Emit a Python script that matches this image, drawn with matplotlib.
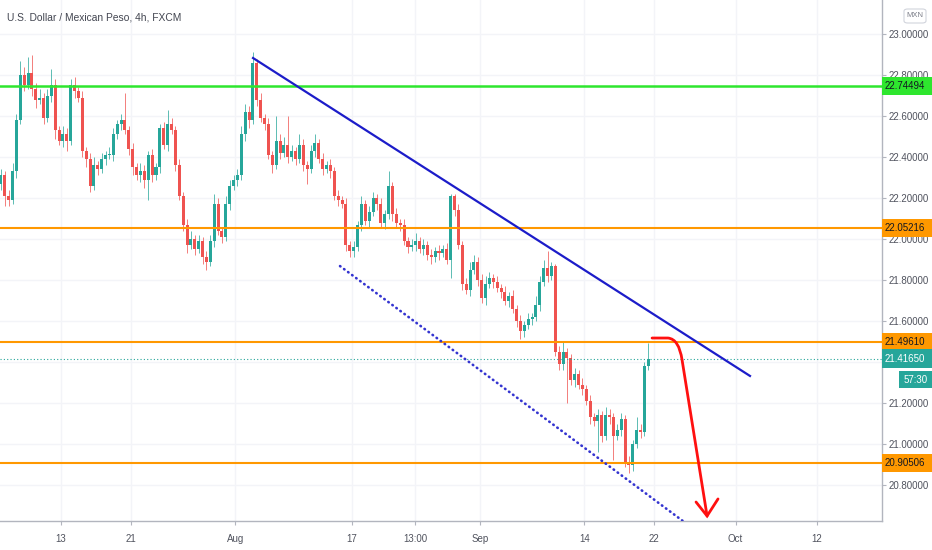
import numpy as np
import matplotlib.pyplot as plt
from matplotlib import transforms
from matplotlib.path import Path
from matplotlib.patches import PathPatch, Rectangle, FancyBboxPatch

plt.rcParams['font.family'] = ['Liberation Sans', 'DejaVu Sans']

# 8h candles, three per trading day, x in trading days from Mon 13 Jul
first_open = 22.27
closes = [22.31, 22.21, 22.19, 22.33, 22.58, 22.80, 22.75, 22.81, 22.73, 22.68,
          22.69, 22.59, 22.70, 22.75, 22.53, 22.48, 22.51, 22.48, 22.75, 22.72,
          22.69, 22.43, 22.39, 22.26, 22.36, 22.34, 22.39, 22.41, 22.41, 22.51,
          22.56, 22.58, 22.53, 22.44, 22.35, 22.31, 22.33, 22.29, 22.41, 22.31,
          22.35, 22.54, 22.46, 22.56, 22.53, 22.36, 22.21, 22.07, 21.97, 22.00,
          21.95, 21.99, 21.91, 21.89, 21.99, 22.17, 22.04, 22.01, 22.17, 22.26,
          22.29, 22.31, 22.51, 22.62, 22.58, 22.86, 22.68, 22.59, 22.56, 22.41,
          22.36, 22.48, 22.42, 22.46, 22.40, 22.43, 22.39, 22.46, 22.36, 22.34,
          22.43, 22.47, 22.39, 22.34, 22.36, 22.33, 22.21, 22.19, 22.17, 21.97,
          21.94, 21.96, 22.07, 22.17, 22.09, 22.13, 22.20, 22.17, 22.08, 22.12,
          22.26, 22.12, 22.08, 22.07, 21.99, 21.96, 21.97, 21.99, 21.95, 21.97,
          21.92, 21.91, 21.94, 21.93, 21.95, 21.90, 22.21, 22.14, 21.97, 21.78,
          21.75, 21.85, 21.89, 21.80, 21.71, 21.78, 21.81, 21.79, 21.76, 21.74,
          21.70, 21.72, 21.66, 21.60, 21.55, 21.58, 21.61, 21.62, 21.68, 21.79,
          21.86, 21.82, 21.87, 21.45, 21.39, 21.45, 21.42, 21.31, 21.34, 21.29,
          21.27, 21.21, 21.13, 21.11, 21.14, 21.04, 21.14, 21.13, 21.04, 21.07,
          21.12, 20.91, 20.90, 21.00, 21.07, 21.06, 21.38, 21.4165]
wick_up = [0.03, 0.02, 0.03, 0.04, 0.03, 0.07, 0.04, 0.08, 0.09, 0.03,
           0.04, 0.02, 0.03, 0.08, 0.03, 0.02, 0.04, 0.03, 0.03, 0.04,
           0.02, 0.03, 0.02, 0.03, 0.04, 0.02, 0.03, 0.02, 0.04, 0.03,
           0.02, 0.03, 0.13, 0.02, 0.03, 0.02, 0.04, 0.03, 0.02, 0.03,
           0.02, 0.02, 0.03, 0.07, 0.03, 0.02, 0.03, 0.02, 0.03, 0.04,
           0.02, 0.03, 0.02, 0.03, 0.03, 0.05, 0.03, 0.02, 0.04, 0.03,
           0.02, 0.03, 0.04, 0.04, 0.03, 0.05, 0.02, 0.03, 0.02, 0.03,
           0.02, 0.12, 0.03, 0.04, 0.14, 0.03, 0.02, 0.05, 0.03, 0.02,
           0.03, 0.04, 0.02, 0.03, 0.02, 0.03, 0.02, 0.03, 0.02, 0.03,
           0.02, 0.03, 0.02, 0.04, 0.02, 0.03, 0.03, 0.02, 0.03, 0.02,
           0.07, 0.02, 0.03, 0.02, 0.03, 0.02, 0.03, 0.04, 0.02, 0.03,
           0.02, 0.03, 0.02, 0.03, 0.02, 0.03, 0.01, 0.01, 0.03, 0.02,
           0.03, 0.04, 0.03, 0.02, 0.03, 0.04, 0.03, 0.02, 0.03, 0.02,
           0.03, 0.02, 0.03, 0.02, 0.03, 0.02, 0.03, 0.02, 0.04, 0.03,
           0.04, 0.08, 0.02, 0.01, 0.03, 0.05, 0.02, 0.02, 0.03, 0.02,
           0.03, 0.02, 0.03, 0.02, 0.03, 0.02, 0.04, 0.03, 0.02, 0.03,
           0.03, 0.02, 0.03, 0.02, 0.06, 0.03, 0.02, 0.075]
wick_dn = [0.03, 0.05, 0.03, 0.02, 0.03, 0.02, 0.03, 0.02, 0.03, 0.04,
           0.02, 0.03, 0.02, 0.03, 0.04, 0.02, 0.03, 0.05, 0.02, 0.03,
           0.02, 0.03, 0.04, 0.03, 0.02, 0.03, 0.02, 0.03, 0.02, 0.03,
           0.02, 0.03, 0.02, 0.03, 0.04, 0.02, 0.03, 0.04, 0.10, 0.03,
           0.02, 0.03, 0.02, 0.03, 0.02, 0.03, 0.02, 0.03, 0.04, 0.02,
           0.03, 0.02, 0.03, 0.04, 0.02, 0.03, 0.02, 0.03, 0.02, 0.03,
           0.02, 0.03, 0.02, 0.03, 0.04, 0.02, 0.03, 0.02, 0.03, 0.02,
           0.04, 0.02, 0.03, 0.02, 0.03, 0.02, 0.03, 0.02, 0.03, 0.07,
           0.02, 0.03, 0.02, 0.03, 0.02, 0.03, 0.02, 0.03, 0.02, 0.03,
           0.03, 0.03, 0.02, 0.03, 0.02, 0.03, 0.02, 0.03, 0.02, 0.03,
           0.02, 0.03, 0.02, 0.03, 0.02, 0.03, 0.02, 0.03, 0.02, 0.03,
           0.02, 0.03, 0.02, 0.03, 0.02, 0.02, 0.09, 0.03, 0.02, 0.03,
           0.02, 0.03, 0.02, 0.03, 0.02, 0.03, 0.02, 0.03, 0.02, 0.03,
           0.02, 0.03, 0.02, 0.03, 0.04, 0.03, 0.02, 0.03, 0.02, 0.03,
           0.02, 0.03, 0.02, 0.02, 0.03, 0.03, 0.22, 0.02, 0.03, 0.02,
           0.03, 0.02, 0.03, 0.02, 0.15, 0.03, 0.02, 0.03, 0.12, 0.02,
           0.03, 0.02, 0.04, 0.03, 0.02, 0.03, 0.02, 0.02]
first_day = -5.333
per_day = 3

levels = [22.74494, 22.05216, 21.49610, 20.90506]
level_colors = ['#2ee62e', '#ff9800', '#ff9800', '#ff9800']
last_price = 21.41650
countdown = '57:30'

tick_days = [0, 6, 15, 25, 30.44, 36, 45, 51, 58, 65]
tick_labels = ['13', '21', 'Aug', '17', '13:00', 'Sep', '14', '22', 'Oct', '12']
price_ticks = [20.8, 21.0, 21.2, 21.4, 21.6, 21.8, 22.0, 22.2, 22.4, 22.6, 22.8, 23.0]

trend_days = [16.51, 59.24]
trend_prices = [22.883, 21.332]
channel_days = [23.99, 53.48]
channel_prices = [21.868, 20.624]
arrow_days = [50.82, 52.19, 53.14, 53.40, 55.55]
arrow_prices = [21.517, 21.517, 21.512, 21.410, 20.649]
head_days = [54.60, 55.55, 56.49]
head_prices = [20.717, 20.649, 20.732]

closes = np.array(closes)
opens = np.concatenate([[first_open], closes[:-1]])
highs = np.maximum(opens, closes) + np.array(wick_up)
lows = np.minimum(opens, closes) - np.array(wick_dn)
t = first_day + (np.arange(len(closes)) + 0.5) / per_day
up = closes >= opens
cols = np.where(up, '#26a69a', '#ef5350')

fig = plt.figure(figsize=(9.32, 5.5), dpi=100)
ax = fig.add_axes([0, 29 / 550, 882 / 932, 521 / 550])
ax.set_xlim(-5.246, 70.59)
ax.set_ylim(20.6244, 23.166)

ax.set_xticks(tick_days)
ax.set_xticklabels(tick_labels)
ax.set_yticks(price_ticks)
# the 21.4 label sits under the last-price badge, as on the chart
ax.set_yticklabels(['' if abs(p - 21.4) < 1e-6 else '%.5f' % p for p in price_ticks])
ax.yaxis.tick_right()
ax.tick_params(axis='both', labelsize=7, colors='#b2b5be', labelcolor='#50535e',
               length=3, width=0.8)
ax.tick_params(axis='x', pad=6)
ax.tick_params(axis='y', pad=2)
for s in ['top', 'left']:
    ax.spines[s].set_visible(False)
for s in ['right', 'bottom']:
    ax.spines[s].set_color('#b2b5be')
    ax.spines[s].set_linewidth(1)
ax.grid(True, color='#f3f4f8', linewidth=1)
ax.set_axisbelow(True)

# candles
ax.vlines(t, lows, highs, colors=cols, linewidth=0.7, alpha=0.75, zorder=2)
body = np.maximum(np.abs(closes - opens), 0.004)
ax.bar(t, body, bottom=np.minimum(opens, closes), width=0.26, color=cols,
       linewidth=0, zorder=2.1)

# horizontal levels
for lv, c in zip(levels, level_colors):
    ax.axhline(lv, color=c, linewidth=1.8 if c == '#2ee62e' else 1.5, zorder=3)
ax.axhline(last_price, color='#26a69a', linewidth=0.8, linestyle=(0, (1, 2)), zorder=3)

# trend lines
ax.plot(trend_days, trend_prices, color='#1c1cc9', linewidth=1.6, zorder=4)
ax.plot(channel_days, channel_prices, color='#3434d0', linewidth=1.9,
        linestyle=(0, (0.2, 1.7)), dash_capstyle='round', zorder=4)

# red forecast arrow
verts = list(zip(arrow_days[:2], arrow_prices[:2])) + \
    list(zip(arrow_days[2:4], arrow_prices[2:4])) + [(arrow_days[4], arrow_prices[4])]
codes = [Path.MOVETO, Path.LINETO, Path.CURVE3, Path.CURVE3, Path.LINETO]
ax.add_patch(PathPatch(Path(verts, codes), fill=False, edgecolor='#ff1010',
                       linewidth=2, capstyle='round', zorder=5))
ax.plot(head_days, head_prices, color='#ff1010', linewidth=2,
        solid_capstyle='round', solid_joinstyle='miter', zorder=5)

# price labels on the right scale
tr = transforms.blended_transform_factory(ax.transAxes, ax.transData)
box_h = 18 / 205
box_w = 50 / 882
for lv, c in zip(levels, level_colors):
    ax.add_patch(Rectangle((1.0, lv - box_h / 2), box_w, box_h, transform=tr,
                           facecolor=c, edgecolor='none', clip_on=False, zorder=6))
    ax.text(1.0 + 3 / 882, lv, '%.5f' % lv, transform=tr, ha='left', va='center',
            fontsize=7, color='#131722', clip_on=False, zorder=7)
ax.add_patch(Rectangle((1.0, last_price - 0.5 * 19 / 205), box_w, 19 / 205, transform=tr,
                       facecolor='#26a69a', edgecolor='none', clip_on=False, zorder=6))
ax.text(1.0 + 3 / 882, last_price, '%.5f' % last_price, transform=tr, ha='left',
        va='center', fontsize=7, color='white', clip_on=False, zorder=7)
cd_y = last_price - 21 / 205
ax.add_patch(Rectangle((1.0 + 17 / 882, cd_y - 0.5 * 17 / 205), 33 / 882, 17 / 205,
                       transform=tr, facecolor='#26a69a', edgecolor='none',
                       clip_on=False, zorder=6))
ax.text(1.0 + 33.5 / 882, cd_y, countdown, transform=tr, ha='center', va='center',
        fontsize=7, color='white', clip_on=False, zorder=7)

# currency badge and title
fig.patches.append(FancyBboxPatch((904 / 932, 1 - 23 / 550), 22 / 932, 14 / 550,
                                  boxstyle='round,pad=0,rounding_size=0.004',
                                  transform=fig.transFigure, facecolor='white',
                                  edgecolor='#d1d4dc', linewidth=0.8))
fig.text(915 / 932, 1 - 15.5 / 550, 'MXN', ha='center', va='center', fontsize=5.5,
         color='#787b86')
fig.text(7 / 932, 1 - 17 / 550, 'U.S. Dollar / Mexican Peso, 4h, FXCM', ha='left',
         va='center', fontsize=7.4, color='#434651')

fig.savefig('out.png', dpi=100)
